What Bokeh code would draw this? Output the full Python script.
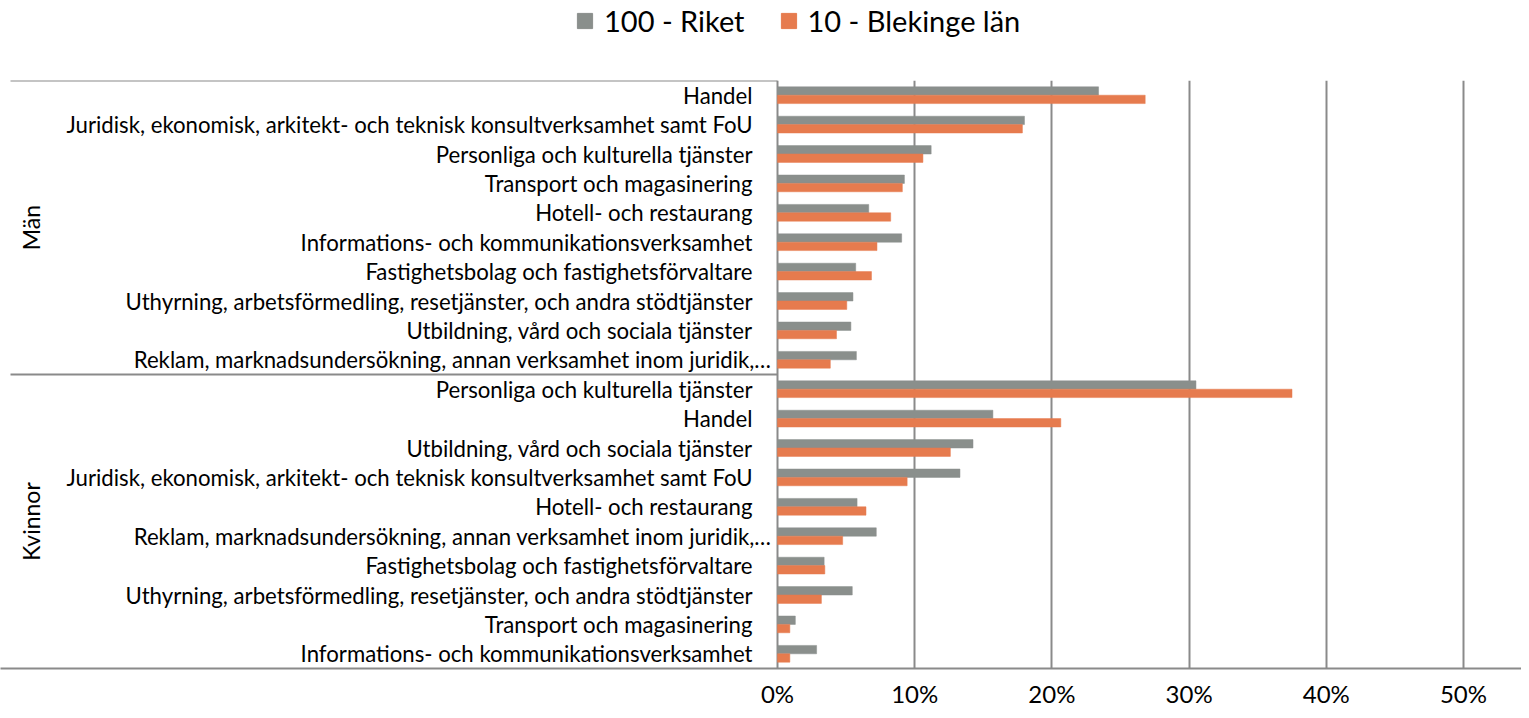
import math
from bokeh.plotting import figure
from bokeh.layouts import column
from bokeh.models import (ColumnDataSource, FactorRange, Range1d, FixedTicker,
                          PrintfTickFormatter, Legend, LegendItem)
from bokeh.transform import dodge
from bokeh.core.properties import value
from bokeh.embed import file_html
from bokeh.resources import INLINE

# ---------------- data ----------------
series_names = ["100 - Riket", "10 - Blekinge län"]
groups = ["Män", "Kvinnor"]

men_categories = [
    "Handel",
    "Juridisk, ekonomisk, arkitekt- och teknisk konsultverksamhet samt FoU",
    "Personliga och kulturella tjänster",
    "Transport och magasinering",
    "Hotell- och restaurang",
    "Informations- och kommunikationsverksamhet",
    "Fastighetsbolag och fastighetsförvaltare",
    "Uthyrning, arbetsförmedling, resetjänster, och andra stödtjänster",
    "Utbildning, vård och sociala tjänster",
    "Reklam, marknadsundersökning, annan verksamhet inom juridik,…",
]
men_riket = [23.4, 18.0, 11.2, 9.25, 6.65, 9.05, 5.7, 5.5, 5.35, 5.75]
men_blekinge = [26.8, 17.85, 10.6, 9.1, 8.25, 7.25, 6.85, 5.05, 4.3, 3.85]

women_categories = [
    "Personliga och kulturella tjänster",
    "Handel",
    "Utbildning, vård och sociala tjänster",
    "Juridisk, ekonomisk, arkitekt- och teknisk konsultverksamhet samt FoU",
    "Hotell- och restaurang",
    "Reklam, marknadsundersökning, annan verksamhet inom juridik,…",
    "Fastighetsbolag och fastighetsförvaltare",
    "Uthyrning, arbetsförmedling, resetjänster, och andra stödtjänster",
    "Transport och magasinering",
    "Informations- och kommunikationsverksamhet",
]
women_riket = [30.5, 15.7, 14.25, 13.3, 5.8, 7.2, 3.4, 5.45, 1.3, 2.85]
women_blekinge = [37.5, 20.65, 12.6, 9.45, 6.45, 4.75, 3.45, 3.2, 0.9, 0.9]

x_ticks = [0, 10, 20, 30, 40, 50]

# ---------------- layout constants ----------------
W = 1521
LEG_H = 76
H = 634
TOP, BOTTOM = 4, 38
ZERO_PX = 777          # pixel position of 0 % inside the figure
PX_PER_PCT = 13.72
FONT = "Lato"
GRAY = "#8A8F8C"
ORANGE = "#E67B4E"
LINE = "#8A8A8A"

rows = ([(groups[0], c) for c in men_categories] +
        [(groups[1], c) for c in women_categories])
riket = men_riket + women_riket
blekinge = men_blekinge + women_blekinge
label_offsets = [-6 if c.endswith("…") else -25 for _, c in rows]

src = ColumnDataSource(dict(y=rows, riket=riket, blekinge=blekinge,
                            label=[c for _, c in rows], zero=[0] * len(rows),
                            xoff=label_offsets))

y_range = FactorRange(factors=list(reversed(rows)), factor_padding=0,
                      group_padding=0, subgroup_padding=0, range_padding=0)
x_start = -ZERO_PX / PX_PER_PCT
x_end = (W - ZERO_PX) / PX_PER_PCT
x_range = Range1d(x_start, x_end)

p = figure(width=W, height=H, x_range=x_range, y_range=y_range,
           output_backend="svg", toolbar_location=None,
           y_axis_location=None,
           min_border_left=0, min_border_right=0,
           min_border_top=TOP, min_border_bottom=BOTTOM)
p.outline_line_color = None
p.background_fill_color = "white"
p.ygrid.visible = False
p.xgrid.ticker = FixedTicker(ticks=x_ticks)
p.xgrid.grid_line_color = LINE
p.xgrid.grid_line_width = 2

ax = p.xaxis[0]
ax.ticker = FixedTicker(ticks=x_ticks)
ax.formatter = PrintfTickFormatter(format="%d%%")
ax.axis_line_color = LINE
ax.axis_line_width = 2
ax.major_tick_line_color = None
ax.minor_tick_line_color = None
ax.major_tick_out = 0
ax.major_tick_in = 0
ax.major_label_standoff = 10
ax.major_label_text_font = FONT
ax.major_label_text_font_size = "24px"
ax.major_label_text_color = "black"

bar_h = 0.285
p.hbar(y=dodge("y", bar_h / 2, range=p.y_range), left=0, right="riket",
       height=bar_h, source=src, fill_color=GRAY, line_color=GRAY,
       line_width=0.5)
p.hbar(y=dodge("y", -bar_h / 2, range=p.y_range), left=0, right="blekinge",
       height=bar_h, source=src, fill_color=ORANGE, line_color=ORANGE,
       line_width=0.5)

# category labels
p.text(x="zero", y="y", text="label", source=src, x_offset="xoff",
       text_align="right", text_baseline="middle",
       text_font=value(FONT), text_font_size="22.2px", text_color="black")

# group labels
gx = x_start + 30 / PX_PER_PCT
p.text(x=[gx, gx], y=groups, text=groups, angle=math.pi / 2,
       text_align="center", text_baseline="middle",
       text_font=value(FONT), text_font_size="23px", text_color="black")

# group separator lines on the category side
sep_y = [(groups[0], men_categories[0], 0.5), (groups[1], women_categories[0], 0.5)]
p.segment(x0=[x_start + 10 / PX_PER_PCT] * 2, x1=[0, 0], y0=sep_y, y1=sep_y,
          line_color=LINE, line_width=2)

# ---------------- legend strip ----------------
lf = figure(width=W, height=LEG_H, x_range=Range1d(0, 1), y_range=Range1d(0, 1),
            output_backend="svg", toolbar_location=None,
            x_axis_location=None, y_axis_location=None, min_border=0)
lf.outline_line_color = None
lf.grid.visible = False
# swatch renderers (kept outside the visible range; only used by the legend)
lr1 = lf.hbar(y=[5], left=[5], right=[6], height=1, fill_color=GRAY, line_color=GRAY)
lr2 = lf.hbar(y=[5], left=[5], right=[6], height=1, fill_color=ORANGE, line_color=ORANGE)
legend = Legend(items=[LegendItem(label=series_names[0], renderers=[lr1]),
                       LegendItem(label=series_names[1], renderers=[lr2])],
                orientation="horizontal", location=(575, LEG_H - 38),
                border_line_color=None, background_fill_alpha=0,
                label_text_font=FONT, label_text_font_size="29px",
                label_text_color="black",
                glyph_width=19, glyph_height=19, spacing=34,
                label_standoff=10, padding=0, margin=0)
lf.add_layout(legend)

layout = column(lf, p, spacing=0)
open("out.html", "w").write(file_html(layout, INLINE))
